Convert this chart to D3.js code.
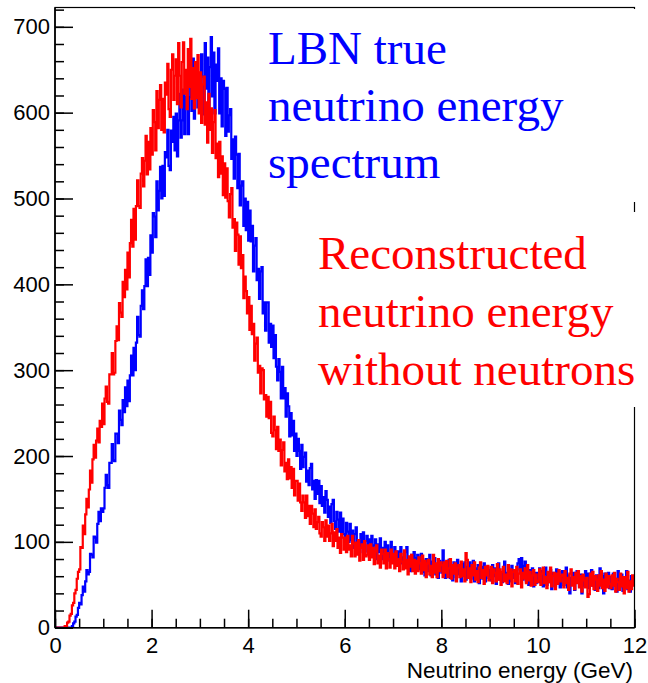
<!DOCTYPE html>
<html>
<head>
<meta charset="utf-8">
<script src="https://cdn.jsdelivr.net/npm/d3@7/dist/d3.min.js"></script>
<style>
  html, body { margin: 0; padding: 0; background: #fff; }
  svg { display: block; }
</style>
</head>
<body>
<svg id="chart" width="648" height="683"></svg>
<script>
// Histogram range: 480 bins of 0.025 GeV from 0 to 12 GeV
const energyRange = [0, 12];

// LBN true neutrino energy spectrum (entries per bin, 20 bins per 0.5 GeV row)
const trueSpectrum = [
  0,0,0,0,0,0,0,0,0,0,0,0,0,0,2,5,7,13,15,23,
  29,27,38,48,42,54,67,62,65,86,85,82,106,105,99,121,135,124,139,135,
  139,163,178,166,163,192,192,214,195,194,226,226,215,253,242,236,265,251,280,258,
  288,264,294,317,294,326,300,332,362,341,339,375,393,371,398,429,398,431,411,457,
  437,483,479,455,520,486,509,537,500,538,503,554,548,580,538,533,579,566,595,556,
  599,549,591,622,571,591,627,575,618,646,575,618,635,602,663,593,634,658,606,633,
  605,668,642,598,681,628,664,607,653,688,619,670,599,656,637,675,599,640,584,637,
  628,573,629,578,597,604,546,569,523,572,551,512,552,492,515,520,468,500,463,496,
  451,486,450,468,415,445,454,405,418,383,415,420,366,379,346,379,379,332,354,327,
  352,314,341,304,288,313,298,267,304,267,279,246,273,258,223,250,224,241,206,226,
  200,220,206,185,213,187,199,204,170,183,166,186,191,161,171,150,172,156,171,145,
  165,142,152,134,159,149,129,141,122,144,149,124,115,135,126,112,134,111,127,109,
  103,122,112,100,121,102,113,93,109,117,94,102,88,109,95,111,88,101,107,89,
  103,84,107,88,96,103,80,97,88,104,80,93,81,100,76,96,87,78,100,81,
  76,94,87,72,89,79,94,75,82,70,88,94,71,79,66,85,73,88,67,81,
  85,68,78,86,65,78,61,80,73,66,85,61,77,67,81,62,73,58,78,71,
  64,90,74,58,76,64,79,58,71,55,76,67,59,79,62,72,54,74,63,76,
  56,71,62,76,57,66,78,54,69,60,73,52,67,71,57,75,54,64,70,58,
  67,55,73,60,69,51,67,75,56,63,53,70,77,57,64,51,67,54,72,58,
  67,52,64,75,80,68,81,56,72,77,54,62,50,67,57,69,48,64,52,64,
  53,69,57,66,48,62,70,50,59,53,67,45,64,61,49,68,53,65,47,59,
  66,50,61,70,47,61,40,58,52,64,44,62,66,53,48,62,40,59,49,66,
  50,63,46,58,67,49,56,44,61,58,46,69,51,60,40,63,49,56,64,46,
  59,45,63,50,57,42,66,47,55,62,43,57,48,66,45,55,42,60,50,56
];

// Reconstructed neutrino energy without neutrons (entries per bin)
const recoSpectrum = [
  0,0,0,0,0,0,0,0,2,2,6,7,14,16,26,29,40,44,57,65,
  68,94,93,119,109,132,150,140,161,183,169,196,213,198,218,232,216,241,234,261,
  237,267,281,263,261,295,295,320,295,297,334,351,335,378,367,362,403,385,417,394,
  437,408,448,475,444,488,452,491,521,491,489,529,547,514,544,573,528,566,534,582,
  551,603,589,556,625,582,615,632,580,616,577,635,621,657,604,595,650,668,615,643,
  662,610,681,643,606,659,682,622,650,604,674,630,686,616,652,605,659,617,667,599,
  647,588,633,642,586,612,565,622,580,605,553,589,603,547,564,525,566,529,549,504,
  541,501,535,497,478,505,512,466,476,439,472,458,423,456,419,434,384,409,392,366,
  385,347,375,342,354,311,331,338,297,305,273,302,300,266,271,246,269,244,263,227,
  223,246,230,208,234,206,219,189,207,216,182,192,173,196,174,187,163,185,154,171,
  171,148,168,146,136,154,146,128,154,130,142,121,142,133,117,138,115,123,129,110,
  106,123,117,101,125,106,119,101,110,121,95,111,101,115,93,105,87,109,105,91,
  105,88,107,91,96,83,107,98,83,99,85,102,78,93,97,79,101,83,85,96,
  79,97,82,93,74,89,96,75,84,70,91,86,75,91,69,87,80,70,91,75,
  86,69,89,72,80,66,86,77,68,90,69,79,62,83,71,85,66,79,63,78,
  66,82,75,63,84,67,78,59,75,79,62,72,59,85,64,75,59,80,66,76,
  73,59,76,64,78,59,69,80,57,73,63,75,54,70,73,59,77,60,68,54,
  87,79,58,69,53,73,61,76,56,66,53,70,76,58,67,51,71,61,72,55,
  58,71,52,68,64,54,74,56,68,50,65,71,54,62,52,73,57,68,48,65,
  67,54,71,51,63,68,47,64,57,69,52,73,55,65,49,61,67,50,62,53,
  55,68,50,63,70,52,59,46,65,53,70,48,60,64,45,63,51,67,54,60,
  62,47,66,52,58,44,63,68,49,59,45,64,52,66,47,60,42,62,55,47,
  58,36,39,63,49,65,45,60,56,43,61,49,66,46,56,43,63,47,60,51,
  46,61,49,64,42,57,53,44,63,48,59,40,59,46,65,42,54,45,61,49
];

// Axis ticks
const xMajorTicks = [0, 2, 4, 6, 8, 10, 12];
const xMinorStep = 0.5;
const yMajorTicks = [0, 100, 200, 300, 400, 500, 600, 700];
const yMinorStep = 20;
const yMax = 722.5;

const xTitle = "Neutrino energy (GeV)";
const trueLabel = ["LBN true", "neutrino energy", "spectrum"];
const recoLabel = ["Reconstructed", "neutrino energy", "without neutrons"];

const svg = d3.select("#chart");
const frame = { left: 55, right: 634.5, top: 7.5, bottom: 627.7 };

const x = d3.scaleLinear().domain(energyRange).range([frame.left, frame.right]);
const y = d3.scaleLinear().domain([0, yMax]).range([frame.bottom, frame.top]);

svg.append("defs").append("clipPath").attr("id", "plotClip")
  .append("rect").attr("x", frame.left).attr("y", frame.top)
  .attr("width", frame.right - frame.left).attr("height", frame.bottom - frame.top);

// Step-line histogram path; bin width follows from the number of bins
function histPath(values) {
  const w = (energyRange[1] - energyRange[0]) / values.length;
  const pts = values.map((v, i) => [energyRange[0] + i * w, v]);
  pts.push([energyRange[1], values[values.length - 1]]);
  return d3.line().x(d => x(d[0])).y(d => y(d[1])).curve(d3.curveStepAfter)(pts);
}

const plot = svg.append("g").attr("clip-path", "url(#plotClip)");
plot.append("path").attr("d", histPath(trueSpectrum))
  .attr("fill", "none").attr("stroke", "#0000ff").attr("stroke-width", 2.2);
plot.append("path").attr("d", histPath(recoSpectrum))
  .attr("fill", "none").attr("stroke", "#ff0000").attr("stroke-width", 2.2);

// Frame
svg.append("rect").attr("x", frame.left).attr("y", frame.top)
  .attr("width", frame.right - frame.left).attr("height", frame.bottom - frame.top)
  .attr("fill", "none").attr("stroke", "#000").attr("stroke-width", 1.2);
svg.append("line").attr("x1", frame.left).attr("x2", frame.left)
  .attr("y1", frame.top).attr("y2", frame.bottom)
  .attr("stroke", "#000").attr("stroke-width", 1.6);
svg.append("line").attr("x1", frame.left).attr("x2", frame.right)
  .attr("y1", frame.bottom).attr("y2", frame.bottom)
  .attr("stroke", "#000").attr("stroke-width", 1.6);

const tickFont = "'Liberation Sans', Arial, Helvetica, sans-serif";

// Y axis: ticks pointing into the plot
const yMinor = d3.range(0, yMax, yMinorStep);
const yMinorAxis = svg.append("g").attr("transform", `translate(${frame.left},0)`)
  .call(d3.axisLeft(y).tickValues(yMinor).tickSize(-9).tickFormat(""));
const yAxis = svg.append("g").attr("transform", `translate(${frame.left},0)`)
  .call(d3.axisLeft(y).tickValues(yMajorTicks).tickSize(-18).tickPadding(5).tickFormat(d3.format("d")));

// X axis
const xMinor = d3.range(0, energyRange[1] + 1e-9, xMinorStep);
const xMinorAxis = svg.append("g").attr("transform", `translate(0,${frame.bottom})`)
  .call(d3.axisBottom(x).tickValues(xMinor).tickSize(-9).tickFormat(""));
const xAxis = svg.append("g").attr("transform", `translate(0,${frame.bottom})`)
  .call(d3.axisBottom(x).tickValues(xMajorTicks).tickSize(-18).tickPadding(10).tickFormat(d3.format("d")));

[yMinorAxis, yAxis, xMinorAxis, xAxis].forEach(g => {
  g.select(".domain").remove();
  g.selectAll(".tick line").attr("stroke", "#000").attr("stroke-width", 1.5);
  g.selectAll("text").attr("fill", "#000")
    .style("font-family", tickFont).style("font-size", "22px");
});

svg.append("text").attr("x", 633).attr("y", 677.5)
  .attr("text-anchor", "end")
  .style("font-family", tickFont).style("font-size", "22.5px")
  .attr("fill", "#000").text(xTitle);

// Text boxes with white fill, drawn over the right frame edge
const serif = "'Liberation Serif', 'DejaVu Serif', serif";
svg.append("rect").attr("x", 264).attr("y", 9).attr("width", 384).attr("height", 193).attr("fill", "#fff");
svg.append("rect").attr("x", 312).attr("y", 212).attr("width", 336).attr("height", 195).attr("fill", "#fff");

const trueText = svg.append("text").attr("fill", "#0000ff")
  .style("font-family", serif).style("font-size", "47px");
trueLabel.forEach((t, i) => trueText.append("tspan").attr("x", 268).attr("y", 64 + i * 57).text(t));

const recoText = svg.append("text").attr("fill", "#ff0000")
  .style("font-family", serif).style("font-size", "47px");
recoLabel.forEach((t, i) => recoText.append("tspan").attr("x", 318).attr("y", 269 + i * 58).text(t));
</script>
</body>
</html>
